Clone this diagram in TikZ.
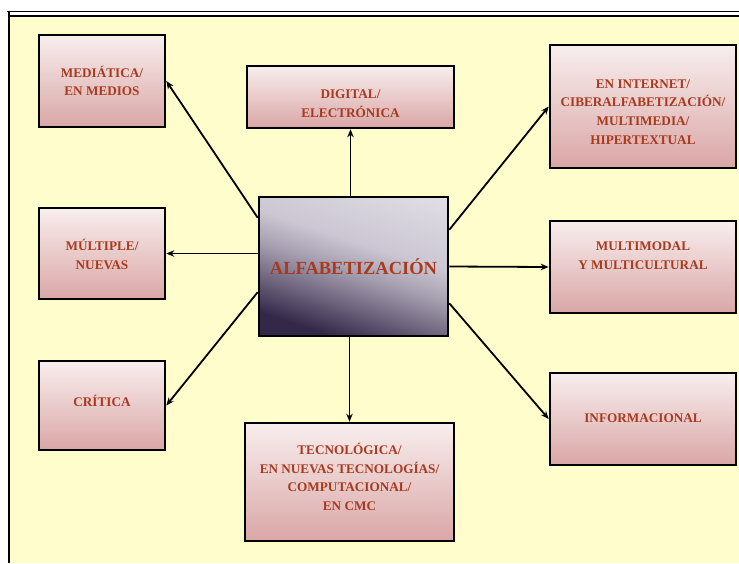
\documentclass[tikz,border=0pt]{standalone}
\usepackage{fontspec}
\setmainfont{Liberation Serif}
\usetikzlibrary{arrows.meta}

\definecolor{fondo}{RGB}{255,253,204}
\definecolor{rosaclaro}{RGB}{248,238,238}
\definecolor{rosaoscuro}{RGB}{218,166,166}
\definecolor{gris1}{RGB}{52,40,72}
\definecolor{gris2}{RGB}{115,105,130}
\definecolor{gris3}{RGB}{165,158,175}
\definecolor{gris4}{RGB}{203,198,210}
\definecolor{gris5}{RGB}{226,223,231}
\definecolor{ladrillo}{RGB}{168,58,30}

\pgfdeclareverticalshading{alfasombra}{100bp}{color(0bp)=(gris1); color(26bp)=(gris1);
	color(38bp)=(gris2); color(48bp)=(gris3); color(58bp)=(gris4); color(82bp)=(gris5);
	color(100bp)=(gris5)}

\tikzset{
	caja/.style={draw=black, line width=2.6pt, top color=rosaclaro, bottom color=rosaoscuro,
		inner sep=0pt},
	letra/.style={text=ladrillo, align=center, inner sep=0pt,
		font=\bfseries\fontsize{13.2}{18.7}\selectfont},
	centro/.style={draw=black, line width=2.6pt, shading=alfasombra, shading angle=-18,
		text=ladrillo, inner sep=0pt, font=\bfseries\fontsize{18.5}{20}\selectfont},
	flecha/.style={line width=1.8pt, -{Stealth[length=8pt,width=6.5pt]}}
}

\begin{document}
\begin{tikzpicture}[x=1pt,y=-1pt]
\useasboundingbox (0,0) rectangle (739,563);
% fondo y marco
\fill [fondo] (10,16) rectangle (739,563);
\draw [line width=1.8pt] (7,11.5) -- (739,11.5);
\draw [line width=1.6pt] (9,16) -- (739,16);
\draw [line width=2.8pt] (9,11) -- (9,563);

% cajas
\node [centro, minimum width=189pt, minimum height=139pt] (alfa) at (353.5,266.5) {ALFABETIZACIÓN};

\node [caja, minimum width=126pt, minimum height=92pt] (mediatica) at (102,81) {};
\node [caja, minimum width=126pt, minimum height=91pt] (multiple) at (102,253.5) {};
\node [caja, minimum width=126pt, minimum height=89pt] (critica) at (102,405.5) {};
\node [caja, minimum width=207pt, minimum height=62pt] (digital) at (350.5,97) {};
\node [caja, minimum width=209pt, minimum height=118pt] (tecno) at (349.5,482) {};
\node [caja, minimum width=186pt, minimum height=123pt] (internet) at (643,106.5) {};
\node [caja, minimum width=186pt, minimum height=92pt] (multimodal) at (643,267) {};
\node [caja, minimum width=186pt, minimum height=92pt] (info) at (643,419) {};

% textos
\node [letra] (mediatica-t) at (mediatica) {MEDIÁTICA/\\EN MEDIOS};
\node [letra] (multiple-t) at ([yshift=-1pt]multiple.center) {MÚLTIPLE/\\NUEVAS};
\node [letra] (critica-t) at ([yshift=5pt]critica.center) {CRÍTICA};
\node [letra] (digital-t) at ([yshift=-7pt]digital.center) {DIGITAL/\\ELECTRÓNICA};
\node [letra] (tecno-t) at ([yshift=5pt]tecno.center)
	{TECNOLÓGICA/\\EN NUEVAS TECNOLOGÍAS/\\COMPUTACIONAL/\\EN CMC};
\node [letra] (internet-t) at ([yshift=-5.5pt]internet.center)
	{EN INTERNET/\\CIBERALFABETIZACIÓN/\\MULTIMEDIA/\\HIPERTEXTUAL};
\node [letra] (multimodal-t) at ([yshift=11pt]multimodal.center) {MULTIMODAL\\Y MULTICULTURAL};
\node [letra] (info-t) at ([yshift=1pt]info.center) {INFORMACIONAL};

% flechas
\draw [flecha] (alfa.153) -- (mediatica.east);
\draw [flecha] (alfa.west |- multiple) -- (multiple.east);
\draw [flecha] (alfa.195) -- (critica.east);
\draw [flecha] (alfa.north -| digital) -- (digital.south);
\draw [flecha] (alfa.south -| tecno) -- (tecno.north);
\draw [flecha] (alfa.21) -- (internet.west);
\draw [flecha] (alfa.east) -- (multimodal.west);
\draw [flecha] (alfa.339) -- (info.west);
\end{tikzpicture}
\end{document}
